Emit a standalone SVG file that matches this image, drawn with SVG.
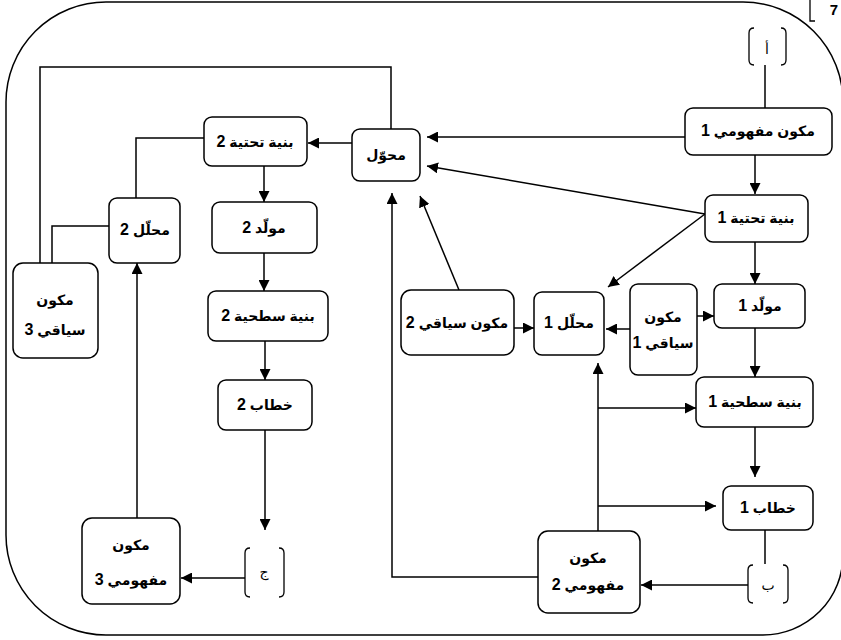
<svg xmlns="http://www.w3.org/2000/svg" width="841" height="640" viewBox="0 0 841 640">
<defs>
<marker id="ah" viewBox="0 0 10 10" refX="10" refY="5" markerWidth="11" markerHeight="11" markerUnits="userSpaceOnUse" orient="auto"><path d="M0,0 L10,5 L0,10 z" fill="#000"/></marker>
<style>
.n rect{fill:#fff;stroke:#000;stroke-width:1.5}
.t{font-family:"Liberation Sans","DejaVu Sans",sans-serif;font-size:14px;font-weight:bold;text-anchor:middle;fill:#000}
.d{font-size:16px}
.c{fill:none;stroke:#000;stroke-width:1.5}
.b{fill:none;stroke:#000;stroke-width:1.3}
</style>
</defs>
<rect width="841" height="640" fill="#fff"/>
<path class="c" d="M106,2 H743 A100,100 0 0 1 843,102 V555 A80,80 0 0 1 763,635 H106 A100,100 0 0 1 6,535 V102 A100,100 0 0 1 106,2 Z"/>
<path class="b" d="M810,0 V21 H815"/>
<text x="834" y="15" style="font-family:'Liberation Sans',sans-serif;font-size:15px;font-weight:bold;text-anchor:middle">7</text>

<g id="connectors">
<line class="c" x1="765" y1="65" x2="765" y2="108"/>
<line class="c" x1="685" y1="137" x2="427" y2="137" marker-end="url(#ah)"/>
<polyline class="c" points="391,129 391,67 40,67 40,263"/>
<line class="c" x1="352" y1="143" x2="308" y2="143" marker-end="url(#ah)"/>
<polyline class="c" points="204,138 136,138 136,198"/>
<polyline class="c" points="109,226 52,226 52,263"/>
<line class="c" x1="137" y1="518" x2="137" y2="263" marker-end="url(#ah)"/>
<line class="c" x1="264" y1="166" x2="264" y2="202" marker-end="url(#ah)"/>
<line class="c" x1="264" y1="253" x2="264" y2="291" marker-end="url(#ah)"/>
<line class="c" x1="265" y1="341" x2="265" y2="380" marker-end="url(#ah)"/>
<line class="c" x1="265" y1="430" x2="265" y2="530" marker-end="url(#ah)"/>
<line class="c" x1="245" y1="578" x2="181" y2="578" marker-end="url(#ah)"/>
<line class="c" x1="755" y1="155" x2="755" y2="194" marker-end="url(#ah)"/>
<line class="c" x1="705" y1="214" x2="427" y2="166" marker-end="url(#ah)"/>
<line class="c" x1="705" y1="214" x2="608" y2="287" marker-end="url(#ah)"/>
<line class="c" x1="755" y1="242" x2="755" y2="284" marker-end="url(#ah)"/>
<line class="c" x1="697" y1="316" x2="714" y2="316" marker-end="url(#ah)"/>
<line class="c" x1="630" y1="329" x2="606" y2="329" marker-end="url(#ah)"/>
<line class="c" x1="514" y1="328" x2="534" y2="328" marker-end="url(#ah)"/>
<line class="c" x1="459" y1="290" x2="420" y2="196" marker-end="url(#ah)"/>
<polyline class="c" points="538,577 392,577 392,193" marker-end="url(#ah)"/>
<line class="c" x1="598" y1="531" x2="598" y2="363" marker-end="url(#ah)"/>
<line class="c" x1="598" y1="408" x2="696" y2="408" marker-end="url(#ah)"/>
<line class="c" x1="598" y1="506" x2="716" y2="506" marker-end="url(#ah)"/>
<line class="c" x1="755" y1="328" x2="755" y2="377" marker-end="url(#ah)"/>
<line class="c" x1="755" y1="427" x2="755" y2="477" marker-end="url(#ah)"/>
<line class="c" x1="765" y1="530" x2="765" y2="564"/>
<line class="c" x1="748" y1="585" x2="641" y2="585" marker-end="url(#ah)"/>
</g>

<g id="bracket-a">
<path class="b" d="M754,28 Q749,28 749,33 V60 Q749,65 754,65"/>
<path class="b" d="M781,28 Q786,28 786,33 V60 Q786,65 781,65"/>
<text class="t" x="767" y="54" style="font-weight:normal">أ</text>
</g>
<g id="bracket-b">
<path class="b" d="M753,565 Q748,565 748,570 V598 Q748,603 753,603"/>
<path class="b" d="M783,565 Q788,565 788,570 V598 Q788,603 783,603"/>
<text class="t" x="768" y="590" style="font-weight:normal">ب</text>
</g>
<g id="bracket-j">
<path class="b" d="M250,548 Q245,548 245,553 V592 Q245,597 250,597"/>
<path class="b" d="M279,548 Q284,548 284,553 V592 Q284,597 279,597"/>
<text class="t" x="264" y="577" style="font-weight:normal">ج</text>
</g>

<g id="n-mafhumi1" class="n"><rect x="685" y="108" width="147" height="47" rx="8"/><text class="t" x="758" y="136" direction="rtl">مكون مفهومي <tspan class="d">1</tspan></text></g>
<g id="n-muhawwil" class="n"><rect x="352" y="129" width="68" height="52" rx="8"/><text class="t" x="386" y="160" direction="rtl">محوّل</text></g>
<g id="n-tahtiya2" class="n"><rect x="204" y="117" width="103" height="49" rx="8"/><text class="t" x="255" y="147" direction="rtl">بنية تحتية <tspan class="d">2</tspan></text></g>
<g id="n-muhallil2" class="n"><rect x="109" y="198" width="71" height="65" rx="8"/><text class="t" x="145" y="235" direction="rtl">محلّل <tspan class="d">2</tspan></text></g>
<g id="n-siyaqi3" class="n"><rect x="13" y="263" width="85" height="95" rx="10"/><text class="t" x="55" y="305" direction="rtl">مكون</text><text class="t" x="55" y="335" direction="rtl">سياقي <tspan class="d">3</tspan></text></g>
<g id="n-muwallid2" class="n"><rect x="212" y="202" width="105" height="51" rx="8"/><text class="t" x="264" y="233" direction="rtl">مولّد <tspan class="d">2</tspan></text></g>
<g id="n-sathiya2" class="n"><rect x="208" y="291" width="120" height="50" rx="8"/><text class="t" x="268" y="321" direction="rtl">بنية سطحية <tspan class="d">2</tspan></text></g>
<g id="n-khitab2" class="n"><rect x="218" y="380" width="94" height="50" rx="8"/><text class="t" x="265" y="410" direction="rtl">خطاب <tspan class="d">2</tspan></text></g>
<g id="n-mafhumi3" class="n"><rect x="82" y="518" width="98" height="86" rx="10"/><text class="t" x="131" y="550" direction="rtl">مكون</text><text class="t" x="131" y="585" direction="rtl">مفهومي <tspan class="d">3</tspan></text></g>
<g id="n-tahtiya1" class="n"><rect x="705" y="195" width="103" height="47" rx="8"/><text class="t" x="756" y="223" direction="rtl">بنية تحتية <tspan class="d">1</tspan></text></g>
<g id="n-muwallid1" class="n"><rect x="714" y="284" width="91" height="44" rx="8"/><text class="t" x="760" y="311" direction="rtl">مولّد <tspan class="d">1</tspan></text></g>
<g id="n-siyaqi1" class="n"><rect x="630" y="284" width="67" height="91" rx="8"/><text class="t" x="663" y="322" direction="rtl">مكون</text><text class="t" x="663" y="348" direction="rtl">سياقي <tspan class="d">1</tspan></text></g>
<g id="n-muhallil1" class="n"><rect x="534" y="292" width="70" height="63" rx="8"/><text class="t" x="569" y="328" direction="rtl">محلّل <tspan class="d">1</tspan></text></g>
<g id="n-siyaqi2" class="n"><rect x="401" y="290" width="113" height="65" rx="10"/><text class="t" x="457" y="328" direction="rtl">مكون سياقي <tspan class="d">2</tspan></text></g>
<g id="n-sathiya1" class="n"><rect x="696" y="377" width="117" height="50" rx="8"/><text class="t" x="755" y="407" direction="rtl">بنية سطحية <tspan class="d">1</tspan></text></g>
<g id="n-khitab1" class="n"><rect x="723" y="486" width="90" height="44" rx="8"/><text class="t" x="768" y="513" direction="rtl">خطاب <tspan class="d">1</tspan></text></g>
<g id="n-mafhumi2" class="n"><rect x="538" y="531" width="102" height="82" rx="10"/><text class="t" x="588" y="563" direction="rtl">مكون</text><text class="t" x="588" y="590" direction="rtl">مفهومي <tspan class="d">2</tspan></text></g>
</svg>
